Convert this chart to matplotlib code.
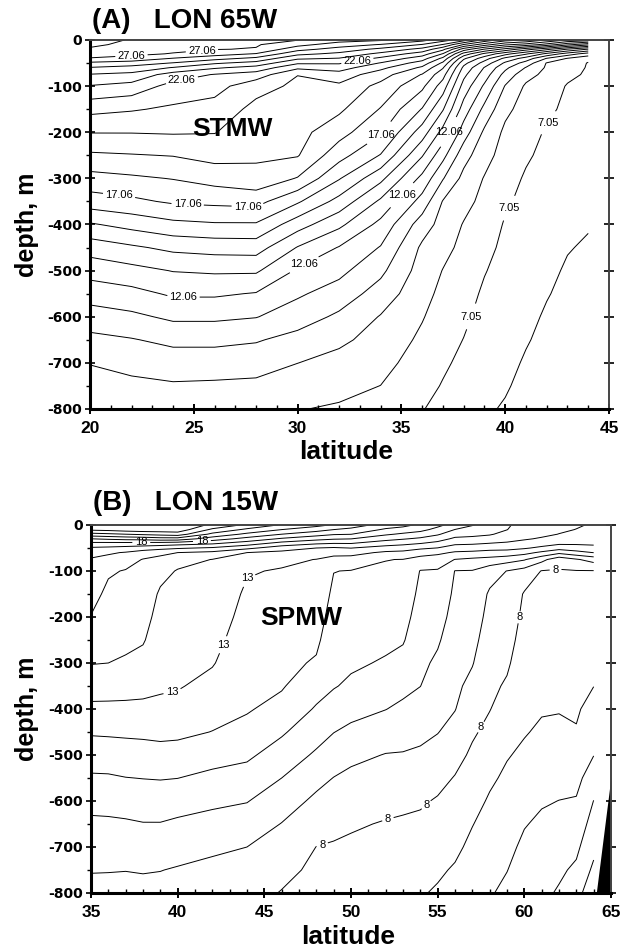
# Temperature sections along 65W and 15W (contoured isotherms)

import numpy as np
import matplotlib.pyplot as plt
from matplotlib.ticker import MultipleLocator

plt.rcParams['font.family'] = ['Liberation Sans', 'DejaVu Sans']
plt.rcParams['axes.unicode_minus'] = False

# depth nodes (m), shared by both sections
depth = [0, 10, 20, 30, 40, 50, 60, 75, 100, 150, 200, 250, 300, 350, 400,
         450, 500, 550, 600, 650, 700, 750, 800]

# ---- (A) LON 65W : one temperature profile per latitude
lat_a = [20, 22, 24, 26, 28, 30, 32, 34, 36, 37, 38, 39, 40, 41, 42, 43, 44]
temp_a = [
    [28.6, 28.3, 27.9, 27.45, 27.0, 25.85, 25.0, 24.0, 23.0, 21.35, 20.1, 18.9, 17.7, 16.6, 14.95, 13.5, 12.45, 11.5, 10.6, 9.8, 9.1, 8.65, 8.25],
    [27.95, 27.75, 27.5, 27.3, 26.7, 25.6, 24.7, 23.8, 22.7, 21.15, 20.1, 19.0, 17.9, 16.85, 15.4, 13.9, 12.75, 11.75, 10.85, 10.0, 9.4, 8.8, 8.35],
    [27.7, 27.5, 27.3, 27.0, 26.0, 25.0, 24.0, 22.6, 21.7, 20.9, 20.15, 19.1, 18.1, 17.2, 15.8, 14.3, 13.1, 12.2, 11.25, 10.3, 9.55, 8.95, 8.45],
    [27.4, 27.25, 27.1, 26.5, 25.4, 24.2, 23.2, 22.0, 21.45, 20.65, 20.1, 19.4, 18.45, 17.3, 15.95, 14.45, 13.2, 12.2, 11.25, 10.3, 9.55, 8.9, 8.4],
    [27.3, 27.15, 27.0, 26.0, 24.8, 23.7, 22.7, 21.6, 20.4, 19.78, 19.5, 19.22, 18.75, 17.4, 15.95, 14.5, 13.2, 12.0, 11.1, 10.15, 9.45, 8.85, 8.35],
    [27.1, 26.4, 25.4, 24.33, 23.22, 22.2, 21.27, 20.08, 19.88, 19.63, 19.38, 19.13, 18.0, 16.2, 14.5, 13.0, 11.93, 11.2, 10.55, 9.72, 9.07, 8.53, 8.1],
    [26.5, 25.55, 24.67, 23.83, 23.0, 22.17, 21.5, 20.65, 19.85, 19.24, 18.45, 17.44, 16.14, 14.71, 13.29, 12.0, 11.33, 10.62, 9.875, 9.25, 8.75, 8.33, 7.95],
    [26.2, 25.0, 23.8, 22.8, 21.83, 21.0, 20.33, 19.5, 18.77, 18.0, 17.19, 16.0, 14.33, 12.875, 11.77, 11.0, 10.29, 9.625, 9.0, 8.7, 8.375, 8.05, 7.85],
    [25.4, 24.0, 22.75, 21.56, 20.5, 19.62, 18.88, 18.0, 17.29, 16.0, 14.57, 13.14, 11.78, 10.67, 9.56, 8.875, 8.625, 8.375, 8.125, 7.87, 7.62, 7.36, 7.1],
    [24.5, 23.0, 21.33, 20.0, 18.8, 17.86, 17.14, 16.43, 15.57, 14.14, 12.71, 11.375, 10.125, 9.0, 8.68, 8.35, 8.03, 7.82, 7.61, 7.41, 7.2, 7.0, 6.8],
    [23.5, 21.0, 18.6, 16.67, 15.25, 14.38, 13.83, 13.33, 12.67, 11.6, 10.56, 9.44, 8.77, 8.38, 8.0, 7.81, 7.62, 7.42, 7.23, 7.04, 6.86, 6.69, 6.52],
    [21.8, 19.5, 17.0, 14.83, 13.5, 12.67, 12.0, 11.57, 10.89, 9.78, 8.87, 8.43, 8.0, 7.78, 7.56, 7.33, 7.11, 6.92, 6.77, 6.62, 6.46, 6.31, 6.15],
    [20.5, 18.25, 15.75, 13.4, 11.8, 10.88, 10.3, 9.71, 9.0, 8.29, 7.86, 7.64, 7.41, 7.18, 6.98, 6.85, 6.73, 6.61, 6.49, 6.37, 6.24, 6.12, 6.0],
    [20.0, 17.67, 14.5, 12.2, 10.63, 9.67, 9.0, 8.4, 7.92, 7.675, 7.43, 7.175, 6.96, 6.84, 6.72, 6.6, 6.48, 6.35, 6.23, 6.11, 5.99, 5.9, 5.8],
    [19.0, 16.67, 13.33, 10.8, 9.0, 8.0, 7.93, 7.81, 7.63, 7.26, 6.96, 6.84, 6.72, 6.59, 6.47, 6.35, 6.22, 6.1, 5.98, 5.9, 5.83, 5.76, 5.7],
    [18.0, 15.33, 12.0, 9.6, 8.0, 7.8, 7.6, 7.3, 6.98, 6.85, 6.725, 6.6, 6.475, 6.35, 6.22, 6.1, 5.98, 5.9, 5.82, 5.75, 5.68, 5.62, 5.55],
    [17.6, 14.33, 11.0, 8.6, 7.42, 6.99, 6.96, 6.92, 6.86, 6.74, 6.61, 6.48, 6.36, 6.23, 6.11, 5.98, 5.9, 5.85, 5.8, 5.75, 5.7, 5.65, 5.6],
]
label_text_a = ['7.05', '12.06', '17.06', '22.06', '27.06']

# ---- (B) LON 15W
lat_b = [35, 36, 37, 38, 39, 40, 42, 44, 46, 48, 49, 50, 52, 53, 54, 55, 56,
         57, 58, 59, 60, 61, 62, 63, 64]
temp_b = [
    [22.8, 22.2, 20.67, 19.0, 17.73, 16.88, 16.29, 15.92, 15.73, 15.35, 14.96, 14.5, 14.04, 13.43, 12.79, 12.1, 11.48, 10.87, 10.3, 9.82, 9.44, 9.05, 8.7],
    [22.8, 22.3, 20.83, 19.17, 17.7, 16.8, 16.13, 15.7, 15.12, 14.77, 14.51, 14.26, 14.0, 13.4, 12.79, 12.13, 11.5, 10.89, 10.33, 9.84, 9.44, 9.04, 8.69],
    [22.8, 22.5, 21.0, 19.33, 17.67, 16.67, 15.93, 15.41, 14.94, 14.69, 14.44, 14.2, 13.89, 13.35, 12.79, 12.16, 11.56, 10.98, 10.41, 9.88, 9.45, 9.02, 8.68],
    [22.8, 22.6, 21.17, 19.4, 17.63, 16.5, 15.55, 14.955, 14.83, 14.58, 14.33, 14.08, 13.7, 13.27, 12.79, 12.19, 11.6, 11.02, 10.48, 9.96, 9.51, 9.06, 8.7],
    [22.8, 22.6, 21.33, 19.6, 17.57, 16.33, 15.22, 14.755, 14.28, 13.87, 13.68, 13.49, 13.3, 13.12, 12.79, 12.24, 11.66, 11.05, 10.49, 9.96, 9.54, 9.02, 8.7],
    [22.8, 22.6, 21.5, 19.6, 17.43, 16.13, 15.0, 14.32, 13.94, 13.76, 13.59, 13.42, 13.25, 13.07, 12.71, 12.2, 11.63, 11.01, 10.4, 9.84, 9.36, 8.93, 8.6],
    [21.8, 20.8, 19.75, 18.5, 17.14, 15.875, 14.77, 13.98, 13.88, 13.67, 13.47, 13.27, 13.06, 12.74, 12.36, 11.98, 11.37, 10.77, 10.2, 9.66, 9.15, 8.79, 8.48],
    [20.8, 19.8, 18.78, 17.67, 16.5, 15.25, 14.0, 13.65, 13.07, 12.85, 12.7, 12.54, 12.39, 12.23, 12.08, 11.72, 11.17, 10.61, 10.04, 9.52, 9.0, 8.69, 8.375],
    [19.9, 19.0, 18.0, 16.875, 15.625, 14.44, 13.77, 13.19, 12.93, 12.76, 12.59, 12.42, 12.25, 12.08, 11.71, 11.12, 10.56, 10.0, 9.47, 8.97, 8.62, 8.28, 7.95],
    [19.3, 18.4, 17.4, 16.33, 15.125, 14.0, 13.5, 12.98, 12.86, 12.64, 12.41, 12.18, 11.9, 11.4, 10.9, 10.39, 9.86, 9.29, 8.8, 8.39, 7.99, 7.79, 7.59],
    [18.9, 18.0, 17.09, 16.1, 15.0, 13.88, 13.29, 12.71, 12.02, 11.81, 11.62, 11.43, 11.25, 11.06, 10.6, 10.02, 9.49, 8.98, 8.6, 8.23, 7.92, 7.72, 7.52],
    [18.6, 17.7, 17.02, 16.02, 15.02, 14.02, 13.33, 12.615, 11.96, 11.76, 11.55, 11.35, 11.14, 10.84, 10.32, 9.78, 9.22, 8.79, 8.45, 8.1, 7.85, 7.64, 7.43],
    [17.5, 16.86, 16.14, 15.33, 14.45, 13.58, 12.83, 12.02, 11.88, 11.65, 11.42, 11.19, 10.91, 10.45, 10.02, 9.47, 8.965, 8.61, 8.26, 7.94, 7.73, 7.51, 7.3],
    [17.3, 16.57, 15.85, 15.08, 14.25, 13.46, 12.75, 11.98, 11.85, 11.6, 11.34, 11.08, 10.69, 10.25, 9.81, 9.37, 8.94, 8.56, 8.19, 7.88, 7.65, 7.42, 7.19],
    [16.8, 16.3, 15.57, 14.83, 14.02, 13.17, 12.43, 11.625, 10.96, 10.77, 10.58, 10.39, 10.2, 10.01, 9.625, 9.23, 8.85, 8.48, 8.11, 7.825, 7.575, 7.325, 7.075],
    [16.25, 15.7, 15.12, 14.43, 13.71, 12.98, 12.23, 11.45, 10.92, 10.65, 10.38, 10.11, 9.84, 9.57, 9.3, 9.03, 8.65, 8.27, 7.92, 7.66, 7.39, 7.13, 6.9],
    [15.6, 14.98, 14.41, 13.81, 13.19, 12.53, 11.88, 10.98, 9.975, 9.82, 9.66, 9.5, 9.35, 9.19, 9.03, 8.69, 8.31, 7.95, 7.69, 7.44, 7.18, 6.91, 6.61],
    [15.05, 14.67, 14.25, 13.75, 13.125, 12.47, 11.8, 10.81, 9.95, 9.72, 9.5, 9.27, 9.05, 8.75, 8.44, 8.125, 7.84, 7.57, 7.3, 7.03, 6.8, 6.58, 6.36],
    [14.7, 14.45, 14.1, 13.56, 12.98, 12.33, 11.67, 10.67, 9.4, 8.87, 8.7, 8.53, 8.37, 8.2, 8.03, 7.76, 7.45, 7.15, 6.9, 6.69, 6.49, 6.29, 6.08],
    [14.1, 14.02, 13.69, 13.31, 12.88, 12.29, 11.62, 10.42, 8.98, 8.77, 8.55, 8.34, 8.13, 7.89, 7.61, 7.33, 7.06, 6.84, 6.63, 6.43, 6.22, 6.02, 5.8],
    [13.7, 13.5, 13.3, 13.1, 12.67, 12.11, 11.33, 10.08, 8.625, 7.914, 7.77, 7.63, 7.49, 7.34, 7.2, 7.06, 6.84, 6.58, 6.32, 6.05, 5.83, 5.625, 5.42],
    [13.5, 13.35, 13.2, 12.9, 12.4, 11.8, 10.8, 9.3, 7.96, 7.82, 7.67, 7.52, 7.37, 7.22, 7.07, 6.87, 6.61, 6.34, 6.08, 5.85, 5.64, 5.43, 5.21],
    [13.3, 13.15, 12.98, 12.58, 12.17, 11.4, 10.25, 8.375, 7.935, 7.79, 7.64, 7.49, 7.34, 7.2, 7.05, 6.81, 6.54, 6.26, 5.99, 5.71, 5.44, 5.16, 4.9],
    [13.1, 12.98, 12.71, 12.43, 12.14, 11.58, 10.67, 8.9, 7.955, 7.82, 7.68, 7.54, 7.39, 7.25, 7.11, 6.94, 6.61, 6.27, 5.93, 5.57, 5.2, 4.83, 4.45],
    [12.9, 12.75, 12.6, 12.45, 12.2, 11.67, 11.02, 9.375, 7.955, 7.77, 7.58, 7.39, 7.2, 7.01, 6.68, 6.34, 6.02, 5.49, 4.985, 4.62, 4.26, 3.8, 3.13],
]
label_text_b = ['8', '13', '18']

# bottom topography at the northern end of section B
bottom_lat_b = [64.15, 65.0]
bottom_depth_b = [-800, -547]

levels_a = np.arange(6, 30) + 0.06
levels_b = np.arange(4, 24)

fig = plt.figure(figsize=(6.23, 9.48), dpi=100)
ax_a = fig.add_axes([90 / 623, 1 - 409 / 948, 519 / 623, 369 / 948])
ax_b = fig.add_axes([91 / 623, 1 - 893 / 948, 520 / 623, 368 / 948])


def contour_section(ax, lat, temp, levels, label_levels, label_text, pos):
    z = -np.array(depth)
    t = np.array(temp).T
    plain = [lv for lv in levels if lv not in label_levels]
    ax.contour(lat, z, t, levels=plain, colors='black', linewidths=0.7)
    cs = ax.contour(lat, z, t, levels=label_levels, colors='black',
                    linewidths=0.7)
    fmt = dict(zip(cs.levels, label_text))
    ax.clabel(cs, manual=pos, fmt=fmt, fontsize=8, inline=True,
              inline_spacing=3)
    # labels in the original are printed upright
    for txt in cs.labelTexts:
        txt.set_rotation(0)


# panel A
lab_lv_a = [levels_a[1], levels_a[6], levels_a[11], levels_a[16], levels_a[21]]
pos_a = [(22, -37), (25.4, -28), (24.4, -80), (32.9, -52),
         (21.4, -337), (24.7, -360), (27.6, -362), (34.1, -210),
         (24.5, -558), (30.4, -495), (35.1, -340), (37.3, -200),
         (38.4, -600), (40.2, -365), (42.1, -180)]
contour_section(ax_a, lat_a, temp_a, levels_a, lab_lv_a, label_text_a, pos_a)
ax_a.text(26.86, -193, 'STMW', ha='center', va='center', fontsize=19,
          fontweight='bold')

# panel B
lab_lv_b = [8, 13, 18]
pos_b = [(37.9, -37), (41.4, -35),
         (39.7, -365), (42.6, -260), (43.8, -105),
         (48.3, -690), (52.1, -635), (54.4, -611), (57.4, -437),
         (59.6, -200), (61.8, -96)]
contour_section(ax_b, lat_b, temp_b, levels_b, lab_lv_b, label_text_b, pos_b)
ax_b.fill_between(bottom_lat_b, bottom_depth_b, -800, color='black', lw=0)
ax_b.text(47.15, -202, 'SPMW', ha='center', va='center', fontsize=19,
          fontweight='bold')

for ax, xlim in [(ax_a, (20, 45)), (ax_b, (35, 65))]:
    ax.set_xlim(*xlim)
    ax.set_ylim(-800, 0)
    ax.xaxis.set_major_locator(MultipleLocator(5))
    ax.xaxis.set_minor_locator(MultipleLocator(1))
    ax.yaxis.set_major_locator(MultipleLocator(100))
    ax.yaxis.set_minor_locator(MultipleLocator(50))
    ax.tick_params(axis='y', which='major', direction='inout', length=7,
                   width=1.2, right=True, labelright=False, pad=2)
    ax.tick_params(axis='y', which='minor', direction='out', length=3,
                   width=1.0, right=False)
    ax.tick_params(axis='x', which='major', direction='inout', length=7,
                   width=1.4, pad=5)
    ax.tick_params(axis='x', which='minor', direction='in', length=3,
                   width=1.0)
    for lab in ax.get_yticklabels():
        lab.set_fontfamily('DejaVu Sans')
        lab.set_fontweight('bold')
        lab.set_fontsize(10)
    for lab in ax.get_xticklabels():
        lab.set_fontweight('bold')
        lab.set_fontsize(12.5)
    for side in ['left', 'bottom']:
        ax.spines[side].set_linewidth(2.2)
    for side in ['top', 'right']:
        ax.spines[side].set_linewidth(1.4)
        ax.spines[side].set_color('#444444')

fig.text(92 / 623, 1 - 28 / 948, '(A)   LON 65W', fontsize=20,
         fontweight='bold', va='baseline')
fig.text(93 / 623, 1 - 510 / 948, '(B)   LON 15W', fontsize=20,
         fontweight='bold', va='baseline')
for yc in [224.5, 709]:
    fig.text(27 / 623, 1 - yc / 948, 'depth, m', rotation=90, fontsize=18,
             fontweight='bold', ha='center', va='center')
fig.text(346 / 623, 1 - 459 / 948, 'latitude', fontsize=19,
         fontweight='bold', ha='center', va='baseline')
fig.text(348 / 623, 1 - 944 / 948, 'latitude', fontsize=19,
         fontweight='bold', ha='center', va='baseline')

plt.savefig('out.png', dpi=100)
